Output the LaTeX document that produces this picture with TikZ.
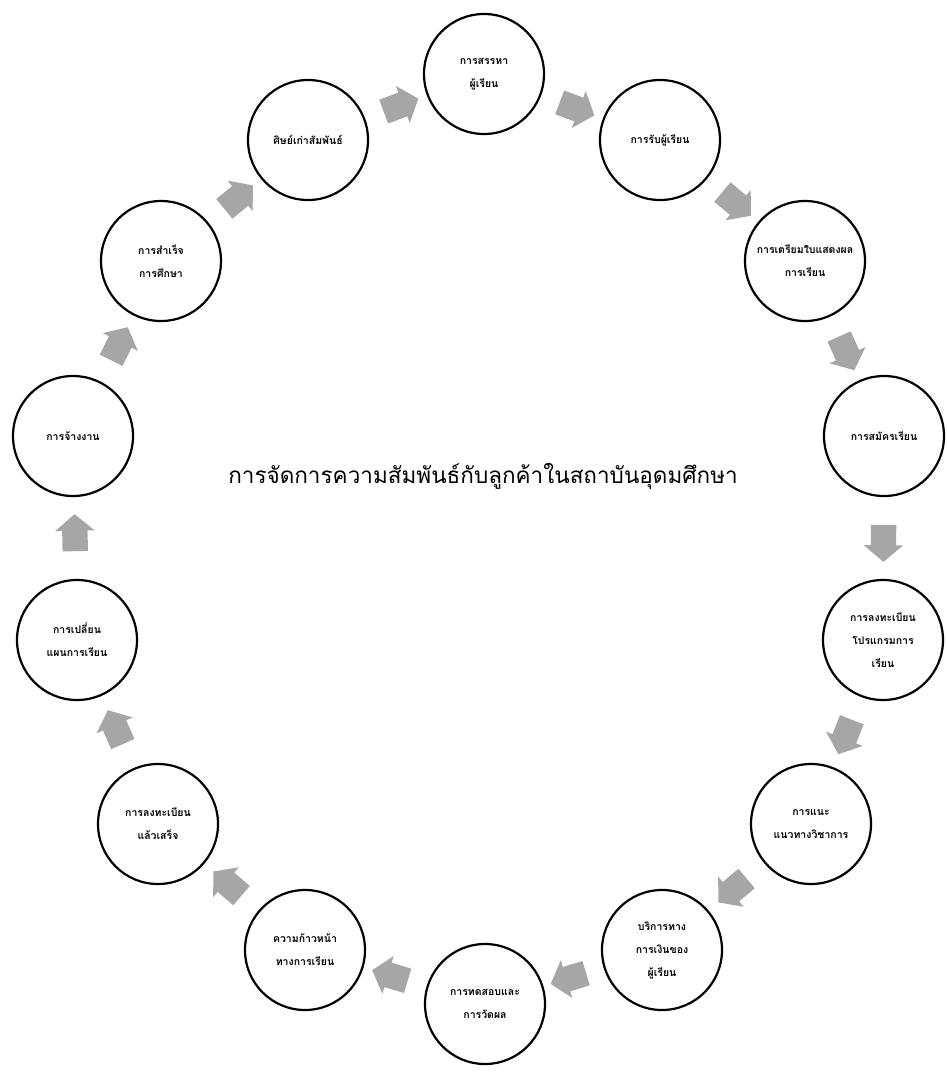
\documentclass[tikz,border=0pt]{standalone}
\usepackage{fontspec}
\newfontfamily\thaifont[Script=Thai]{Loma}
\usetikzlibrary{shapes.arrows,calc}
\definecolor{arrgray}{HTML}{A6A6A6}
\tikzset{
  stage/.style={circle, draw=black, line width=2.2pt, minimum size=120pt, inner sep=0pt,
    align=center, font=\thaifont\bfseries\fontsize{10.5}{23}\selectfont},
  flowarrow/.style={single arrow, fill=arrgray, draw=none, minimum height=37pt,
    inner xsep=0pt, inner ysep=12.5pt, single arrow head extend=7pt,
    single arrow tip angle=100, sloped, allow upside down, midway},
  titletext/.style={font=\thaifont\fontsize{22.5}{26}\selectfont, inner sep=0pt}
}
\begin{document}
\begin{tikzpicture}[x=1pt,y=-1pt]
\useasboundingbox (0,0) rectangle (946,1073);
\fill[white] (0,0) rectangle (946,1073);
\node[stage] (n1)  at (484,74)   {การสรรหา\\ผู้เรียน};
\node[stage] (n2)  at (660,140)  {การรับผู้เรียน};
\node[stage] (n3)  at (805,261)  {การเตรียมใบแสดงผล\\การเรียน};
\node[stage] (n4)  at (884,436)  {การสมัครเรียน};
\node[stage] (n5)  at (883,640)  {การลงทะเบียน\\โปรแกรมการ\\เรียน};
\node[stage] (n6)  at (811,824)  {การแนะ\\แนวทางวิชาการ};
\node[stage] (n7)  at (662,950)  {บริการทาง\\การเงินของ\\ผู้เรียน};
\node[stage] (n8)  at (485,1004) {การทดสอบและ\\การวัดผล};
\node[stage] (n9)  at (305,950)  {ความก้าวหน้า\\ทางการเรียน};
\node[stage] (n10) at (158,824)  {การลงทะเบียน\\แล้วเสร็จ};
\node[stage] (n11) at (77,640)   {การเปลี่ยน\\แผนการเรียน};
\node[stage] (n12) at (73,436)   {การจ้างงาน};
\node[stage] (n13) at (161,261)  {การสำเร็จ\\การศึกษา};
\node[stage] (n14) at (308,140)  {ศิษย์เก่าสัมพันธ์};
\node[titletext] (title) at (483,476) {การจัดการความสัมพันธ์กับลูกค้าในสถาบันอุดมศึกษา};
\foreach \a/\b in {n1/n2,n2/n3,n3/n4,n4/n5,n5/n6,n6/n7,n7/n8,n8/n9,n9/n10,n10/n11,n11/n12,n12/n13,n13/n14,n14/n1}
  \path (\a) -- (\b) node[flowarrow] {};
\end{tikzpicture}
\end{document}
